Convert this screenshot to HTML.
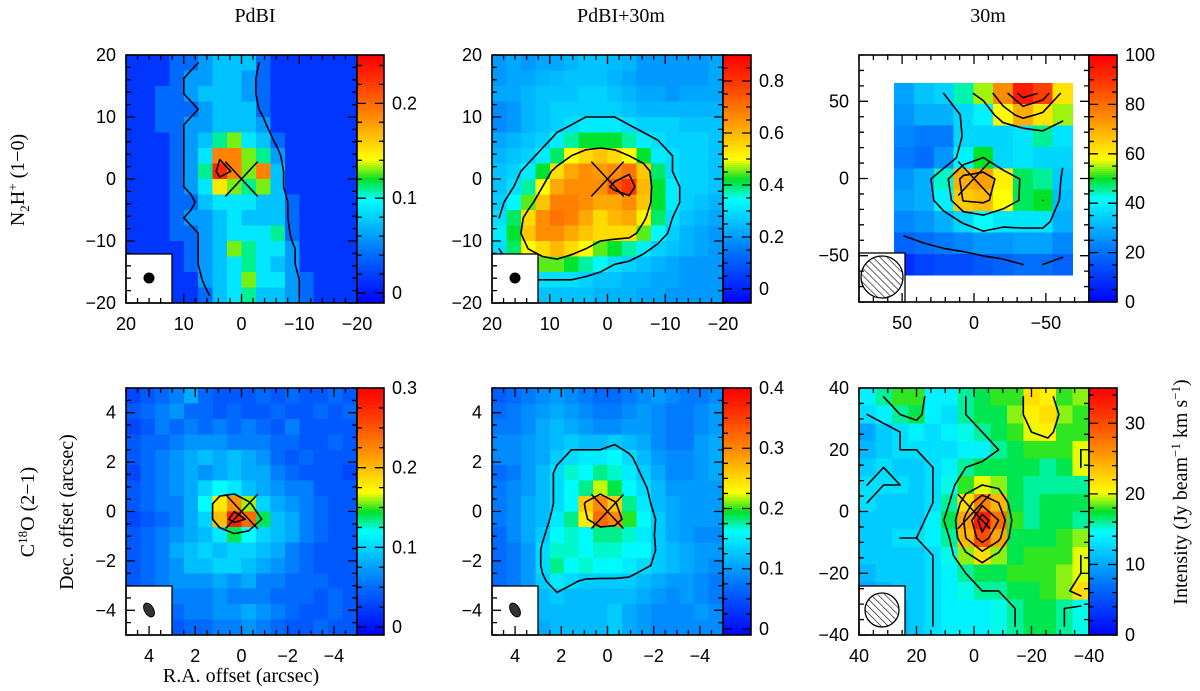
<!DOCTYPE html>
<html><head><meta charset="utf-8">
<style>
html,body{margin:0;padding:0;background:#fff;}
svg{display:block;}
text{fill:#000;}
.tk{font-family:"Liberation Sans",sans-serif;font-size:18px;}
.lb{font-family:"Liberation Serif",serif;font-size:20px;}
</style></head>
<body>
<svg id="fig" width="1200" height="691" viewBox="0 0 1200 691" xmlns="http://www.w3.org/2000/svg">
<defs>
<pattern id="hatch" patternUnits="userSpaceOnUse" width="5" height="5" patternTransform="rotate(-45)">
<line x1="0" y1="0" x2="0" y2="5" stroke="#000" stroke-width="1.2"/></pattern>
</defs>
<text class="lb" x="255" y="22" text-anchor="middle">PdBI</text>
<text class="lb" x="621" y="22" text-anchor="middle">PdBI+30m</text>
<text class="lb" x="988" y="22" text-anchor="middle">30m</text>
<text class="lb" transform="translate(24,180) rotate(-90)" text-anchor="middle">N<tspan font-size="13" dy="5">2</tspan><tspan dy="-5">H</tspan><tspan font-size="13" dy="-7">+</tspan><tspan dy="7"> (1−0)</tspan></text>
<text class="lb" transform="translate(34,512) rotate(-90)" text-anchor="middle">C<tspan font-size="13" dy="-7">18</tspan><tspan dy="7">O (2−1)</tspan></text>
<text class="lb" transform="translate(73,512) rotate(-90)" text-anchor="middle">Dec. offset (arcsec)</text>
<text class="lb" x="241" y="682" text-anchor="middle">R.A. offset (arcsec)</text>
<text class="lb" transform="translate(1187,492) rotate(-90)" text-anchor="middle">Intensity (Jy beam<tspan font-size="13" dy="-7">−1</tspan><tspan dy="7"> km s</tspan><tspan font-size="13" dy="-7">−1</tspan><tspan dy="7">)</tspan></text>
<g id="panels"></g>
</svg>
<script>
// ---------- DATA ----------
const p1Values = [
[.015,.015,.015,.04,.04,.06,.075,.075,.075,.04,.015,.015,.015,.015,.015,.015],
[.015,.015,.015,.04,.06,.06,.075,.075,.06,.04,.015,.015,.015,.015,.015,.015],
[.015,.015,.04,.04,.06,.075,.075,.075,.06,.04,.015,.015,.015,.015,.015,.015],
[.015,.015,.04,.04,.04,.06,.075,.075,.075,.04,.015,.015,.015,.015,.015,.015],
[.015,.015,.04,.04,.06,.06,.075,.075,.075,.06,.015,.015,.015,.015,.015,.015],
[.015,.015,.015,.04,.06,.075,.11,.13,.09,.075,.04,.015,.015,.015,.015,.015],
[.015,.015,.015,.04,.06,.09,.19,.19,.13,.11,.06,.015,.015,.015,.015,.015],
[.015,.015,.015,.04,.06,.11,.23,.19,.13,.19,.075,.015,.015,.015,.015,.015],
[.015,.015,.015,.04,.06,.09,.15,.13,.11,.13,.075,.015,.015,.015,.015,.015],
[.015,.015,.015,.04,.04,.075,.09,.09,.09,.075,.075,.04,.015,.015,.015,.015],
[.015,.015,.015,.04,.06,.06,.075,.09,.075,.075,.075,.04,.015,.015,.015,.015],
[.015,.015,.015,.04,.04,.06,.075,.09,.09,.09,.11,.04,.015,.015,.015,.015],
[.015,.015,.015,.015,.04,.06,.075,.13,.11,.09,.09,.06,.015,.015,.015,.015],
[.015,.015,.015,.015,.04,.06,.075,.09,.11,.09,.075,.06,.015,.015,.015,.015],
[.015,.015,.015,.015,.015,.06,.075,.09,.13,.09,.09,.06,.04,.015,.015,.015],
[.015,.015,.015,.015,.015,.04,.075,.09,.11,.075,.075,.06,.04,.015,.015,.015]];
const p2Values = [
[.2,.22,.2,.22,.22,.24,.26,.26,.25,.24,.2,.2,.2,.2,.2,.22],
[.2,.22,.22,.24,.25,.26,.26,.26,.24,.22,.2,.2,.2,.2,.2,.22],
[.22,.22,.24,.26,.26,.26,.28,.28,.26,.24,.22,.22,.2,.22,.22,.22],
[.18,.2,.24,.26,.28,.28,.28,.28,.28,.26,.24,.24,.24,.24,.24,.24],
[.18,.2,.24,.26,.28,.3,.32,.32,.32,.3,.28,.28,.28,.26,.26,.26],
[.22,.24,.26,.28,.32,.38,.42,.42,.42,.38,.32,.3,.28,.28,.28,.26],
[.24,.26,.28,.32,.4,.5,.55,.58,.55,.5,.42,.32,.3,.28,.28,.26],
[.26,.28,.32,.42,.55,.62,.66,.64,.66,.7,.58,.4,.3,.28,.28,.26],
[.26,.3,.38,.5,.62,.66,.66,.66,.75,.8,.6,.42,.32,.28,.28,.26],
[.28,.34,.45,.58,.68,.68,.66,.62,.62,.66,.58,.42,.32,.28,.26,.24],
[.3,.4,.55,.66,.7,.68,.62,.55,.6,.62,.52,.4,.3,.26,.24,.22],
[.32,.42,.58,.66,.66,.62,.58,.55,.55,.55,.45,.34,.28,.24,.22,.2],
[.3,.4,.5,.55,.6,.55,.5,.45,.42,.38,.32,.28,.26,.24,.22,.2],
[.26,.32,.42,.45,.45,.42,.38,.34,.3,.28,.26,.24,.22,.2,.2,.2],
[.24,.26,.3,.3,.3,.3,.28,.26,.26,.24,.24,.22,.22,.2,.2,.2],
[.22,.24,.24,.26,.26,.26,.26,.24,.24,.24,.22,.22,.2,.2,.2,.2]];
const p3Values = [
[28,33,35,45,55,75,95,88,62],
[26,30,30,36,40,58,70,62,55],
[24,22,22,36,36,36,38,46,38],
[22,20,26,40,50,36,38,36,36],
[26,30,44,70,72,60,48,46,34],
[28,30,40,66,68,58,48,50,32],
[24,26,30,36,42,38,38,38,30],
[18,20,22,24,26,26,28,28,24],
[8,12,14,14,16,18,20,20,18]];
const p4Values = [
[.03,.04,.05,.06,.08,.05,.04,.04,.04,.05,.04,.05,.04,.04,.05,.04],
[.04,.05,.06,.07,.05,.05,.04,.05,.04,.04,.05,.04,.04,.05,.04,.05],
[.03,.04,.06,.05,.06,.05,.06,.05,.06,.05,.04,.06,.04,.04,.04,.04],
[.04,.05,.05,.06,.07,.07,.07,.06,.06,.06,.05,.05,.04,.04,.05,.04],
[.04,.05,.06,.07,.08,.09,.08,.09,.08,.07,.05,.04,.05,.04,.04,.04],
[.03,.05,.06,.07,.08,.07,.08,.09,.08,.08,.06,.05,.04,.04,.04,.03],
[.04,.05,.06,.07,.08,.10,.12,.11,.09,.08,.07,.06,.06,.04,.04,.04],
[.04,.05,.06,.06,.08,.12,.18,.22,.16,.10,.08,.07,.06,.05,.04,.04],
[.03,.04,.05,.06,.08,.10,.20,.28,.24,.14,.09,.08,.06,.05,.04,.04],
[.04,.05,.06,.07,.08,.09,.11,.14,.12,.10,.09,.08,.06,.05,.04,.04],
[.04,.05,.06,.08,.09,.10,.09,.10,.10,.09,.08,.06,.05,.04,.04,.04],
[.04,.05,.06,.07,.09,.09,.10,.10,.09,.08,.07,.06,.05,.04,.04,.04],
[.04,.05,.06,.07,.07,.07,.08,.07,.08,.06,.06,.05,.05,.05,.04,.04],
[.04,.05,.06,.06,.06,.06,.07,.06,.06,.06,.05,.05,.05,.04,.05,.04],
[.04,.04,.05,.05,.06,.06,.07,.07,.08,.07,.06,.05,.04,.04,.05,.04],
[.04,.04,.04,.04,.05,.05,.06,.06,.07,.06,.05,.04,.04,.05,.04,.04]];
const p5Values = [
[.06,.07,.08,.09,.10,.09,.08,.07,.07,.08,.09,.10,.09,.08,.08,.09],
[.07,.08,.09,.10,.11,.10,.09,.08,.08,.09,.10,.09,.08,.08,.09,.10],
[.08,.08,.09,.11,.12,.11,.10,.09,.09,.10,.10,.09,.08,.08,.09,.10],
[.09,.09,.10,.11,.12,.13,.12,.12,.13,.12,.11,.09,.08,.08,.10,.11],
[.09,.09,.10,.11,.13,.14,.15,.15,.16,.14,.12,.10,.09,.09,.10,.11],
[.07,.08,.10,.12,.14,.17,.16,.18,.17,.15,.13,.11,.09,.09,.10,.11],
[.08,.09,.10,.12,.14,.16,.18,.22,.19,.16,.14,.12,.10,.10,.10,.10],
[.08,.09,.11,.12,.14,.16,.26,.30,.26,.18,.15,.12,.11,.10,.10,.10],
[.08,.09,.11,.12,.15,.18,.24,.32,.30,.20,.16,.13,.11,.10,.10,.10],
[.07,.09,.11,.13,.16,.17,.16,.18,.18,.17,.15,.13,.11,.10,.09,.09],
[.07,.08,.10,.14,.17,.17,.16,.17,.17,.16,.16,.13,.12,.11,.10,.10],
[.07,.08,.10,.14,.18,.16,.17,.16,.16,.15,.14,.13,.12,.11,.10,.09],
[.07,.08,.10,.13,.15,.14,.13,.13,.13,.13,.12,.11,.10,.10,.09,.08],
[.08,.09,.11,.12,.13,.12,.12,.12,.12,.12,.11,.10,.09,.10,.09,.08],
[.08,.09,.11,.12,.12,.12,.12,.12,.13,.11,.10,.09,.09,.09,.10,.09],
[.08,.09,.10,.11,.12,.12,.12,.12,.13,.11,.10,.09,.09,.09,.09,.09]];
const p6Values = [
[14,16,18,18,14,14,16,17,18,18,22,21,18,19],
[13,14,16,17,14,13,16,17,17,19,21,22,19,18],
[10,12,13,14,13,14,15,16,17,18,20,21,18,18],
[11,12,13,13,13,13,14,14,16,17,18,18,18,20],
[12,13,12,12,13,14,16,17,17,17,17,16,17,20],
[13,13,13,12,13,15,18,20,19,17,16,16,16,16],
[13,12,12,12,13,16,22,27,24,17,16,17,17,17],
[12,12,12,12,14,17,25,33,28,18,16,17,17,16],
[12,12,13,13,14,16,24,30,25,17,17,17,18,19],
[12,12,12,12,13,15,19,22,19,17,18,18,18,20],
[11,12,12,12,13,14,16,17,17,18,18,18,19,20],
[10,11,12,12,13,14,15,16,16,17,17,18,19,22],
[11,11,11,12,13,14,14,14,15,16,17,17,16,15],
[11,11,11,12,13,14,14,14,15,16,17,17,16,15]];
const p1Contours = [0.05, 0.2];
const p2Contours = [0.3, 0.5, 0.72];
const p3Contours = [20, 35, 50, 65, 80, 90];
const p4Contours = [0.15, 0.25];
const p5Contours = [0.135, 0.25];
const p6Contours = [13, 16, 20, 24, 28, 31];
const axisTicks20 = [20, 10, 0, -10, -20];
const axisTicks80 = [50, 0, -50];
const axisTicks5 = [4, 2, 0, -2, -4];
const axisTicks40 = [40, 20, 0, -20, -40];
const cb1Ticks = [0, 0.1, 0.2];
const cb1Labels = ["0", "0.1", "0.2"];
const cb2Ticks = [0, 0.2, 0.4, 0.6, 0.8];
const cb2Labels = ["0", "0.2", "0.4", "0.6", "0.8"];
const cb3Ticks = [0, 20, 40, 60, 80, 100];
const cb3Labels = ["0", "20", "40", "60", "80", "100"];
const cb4Ticks = [0, 0.1, 0.2, 0.3];
const cb4Labels = ["0", "0.1", "0.2", "0.3"];
const cb5Ticks = [0, 0.1, 0.2, 0.3, 0.4];
const cb5Labels = ["0", "0.1", "0.2", "0.3", "0.4"];
const cb6Ticks = [0, 10, 20, 30];
const cb6Labels = ["0", "10", "20", "30"];

// ---------- RENDER ----------
const NS = "http://www.w3.org/2000/svg";
const root = document.getElementById("panels");
function mk(tag, attrs, parent) {
  const e = document.createElementNS(NS, tag);
  for (const k in attrs) e.setAttribute(k, attrs[k]);
  (parent || root).appendChild(e);
  return e;
}
const stops = [[0,[0,0,255]],[0.2,[0,110,255]],[0.42,[0,255,255]],[0.5,[0,225,40]],[0.58,[255,255,0]],[0.75,[255,140,0]],[0.9,[255,50,0]],[1,[255,0,0]]];
function cmap(f) {
  f = Math.max(0, Math.min(1, f));
  for (let i = 1; i < stops.length; i++) {
    if (f <= stops[i][0]) {
      const a = stops[i-1], b = stops[i], t = (f - a[0]) / (b[0] - a[0]);
      const c = a[1].map((v, k) => Math.round(v + (b[1][k] - v) * t));
      return "rgb(" + c.join(",") + ")";
    }
  }
  return "rgb(255,0,0)";
}
function fmt(v){ return String(v).replace("-", "−"); }

function panel(p) {
  const g = mk("g", {});
  
  
  const sx = v => p.x0 + (v - p.xd[0]) / (p.xd[1] - p.xd[0]) * (p.x1 - p.x0);
  const sy = v => p.y0 + (v - p.yd[0]) / (p.yd[1] - p.yd[0]) * (p.y1 - p.y0);
  const cf = v => (v - p.cd[0]) / (p.cd[1] - p.cd[0]);
  const clipId = "clip-" + p.name;
  const cp = mk("clipPath", {id: clipId}, g);
  mk("rect", {x: p.x0, y: p.y0, width: p.x1 - p.x0, height: p.y1 - p.y0}, cp);
  const hm = mk("g", {"clip-path": "url(#" + clipId + ")", "shape-rendering": "crispEdges"}, g);
  
  
  const rows = p.vals.length, cols = p.vals[0].length;
  const dx = (p.ge[1] - p.ge[0]) / cols, dy = (p.ge[3] - p.ge[2]) / rows;
  for (let r = 0; r < rows; r++) for (let c = 0; c < cols; c++) {
    const xa = sx(p.ge[0] + c * dx), xb = sx(p.ge[0] + (c + 1) * dx);
    const ya = sy(p.ge[2] + r * dy), yb = sy(p.ge[2] + (r + 1) * dy);
    const cell = mk("rect", {x: Math.min(xa, xb), y: Math.min(ya, yb), width: Math.abs(xb - xa) + 0.6, height: Math.abs(yb - ya) + 0.6, fill: cmap(cf(p.vals[r][c]))}, hm);
    
    
  }
  const cx = c => sx(p.ge[0] + (c + 0.5) * dx), cy = r => sy(p.ge[2] + (r + 0.5) * dy);
  let d = "";
  p.levels.forEach(L => {
    for (let r = 0; r < rows - 1; r++) for (let c = 0; c < cols - 1; c++) {
      const corners = [[r, c], [r, c + 1], [r + 1, c + 1], [r + 1, c]];
      const pts = [];
      for (let k = 0; k < 4; k++) {
        const A = corners[k], B = corners[(k + 1) % 4];
        const va = p.vals[A[0]][A[1]], vb = p.vals[B[0]][B[1]];
        if ((va < L) !== (vb < L)) {
          const t = (L - va) / (vb - va);
          const rr = A[0] + (B[0] - A[0]) * t, cc = A[1] + (B[1] - A[1]) * t;
          pts.push([cx(0) + (cx(1) - cx(0)) * cc, cy(0) + (cy(1) - cy(0)) * rr]);
        }
      }
      for (let k = 0; k + 1 < pts.length; k += 2)
        d += "M" + pts[k][0].toFixed(1) + " " + pts[k][1].toFixed(1) + "L" + pts[k+1][0].toFixed(1) + " " + pts[k+1][1].toFixed(1);
    }
  });
  const ct = mk("path", {d: d, fill: "none", stroke: "#000", "stroke-width": 1.6, "stroke-linecap": "round", "clip-path": "url(#" + clipId + ")"}, g);
  
  
  const cr = mk("path", {d: "M" + sx(p.cross) + " " + sy(p.cross) + "L" + sx(-p.cross) + " " + sy(-p.cross) + "M" + sx(p.cross) + " " + sy(-p.cross) + "L" + sx(-p.cross) + " " + sy(p.cross), stroke: "#000", "stroke-width": 1.5}, g);
  
  
  const bx = mk("rect", {x: p.x0, y: p.y1 - 49, width: 46, height: 49, fill: "#fff", stroke: "#000", "stroke-width": 1.3}, g);
  
  
  const bcx = p.x0 + 23, bcy = p.y1 - 25;
  let beam;
  if (p.beam === "dot") beam = mk("ellipse", {cx: bcx, cy: bcy, rx: 5.5, ry: 5.5, fill: "#000"}, g);
  else if (p.beam === "ell") beam = mk("ellipse", {cx: bcx, cy: bcy, rx: 4.5, ry: 7.5, fill: "#333", stroke: "#000", transform: "rotate(-30 " + bcx + " " + bcy + ")"}, g);
  else beam = mk("circle", {cx: bcx, cy: bcy, r: p.beam === "big" ? 21 : 17, fill: "url(#hatch)", stroke: "#000", "stroke-width": 1.3}, g);
  
  
  mk("rect", {x: p.x0, y: p.y0, width: p.x1 - p.x0, height: p.y1 - p.y0, fill: "none", stroke: "#000", "stroke-width": 1.6}, g);
  let td = "";
  const lo = Math.min(p.xd[0], p.xd[1]), hi = Math.max(p.xd[0], p.xd[1]);
  for (let v = Math.ceil(lo / p.minor - 1e-6) * p.minor; v <= hi + 1e-9; v += p.minor) {
    const major = p.ticks.some(t => Math.abs(t - v) < 1e-6);
    const L = major ? 9 : 5, x = sx(v);
    td += "M" + x + " " + p.y0 + "v" + L + "M" + x + " " + p.y1 + "v" + (-L);
  }
  const lo2 = Math.min(p.yd[0], p.yd[1]), hi2 = Math.max(p.yd[0], p.yd[1]);
  for (let v = Math.ceil(lo2 / p.minor - 1e-6) * p.minor; v <= hi2 + 1e-9; v += p.minor) {
    const major = p.ticks.some(t => Math.abs(t - v) < 1e-6);
    const L = major ? 9 : 5, y = sy(v);
    td += "M" + p.x0 + " " + y + "h" + L + "M" + p.x1 + " " + y + "h" + (-L);
  }
  mk("path", {d: td, stroke: "#000", "stroke-width": 1.3, fill: "none"}, g);
  p.ticks.forEach(t => {
    const a = mk("text", {class: "tk", x: p.x0 - 10, y: sy(t) + 6, "text-anchor": "end"}, g);
    a.textContent = fmt(t);
    
    
    const b = mk("text", {class: "tk", x: sx(t), y: p.y1 + 27, "text-anchor": "middle"}, g);
    b.textContent = fmt(t);
    
    
  });
  const cbg = mk("g", {"shape-rendering": "crispEdges"}, g);
  
  
  const N = 120, h = (p.y1 - p.y0) / N;
  for (let i = 0; i < N; i++) mk("rect", {x: p.x1, y: p.y1 - (i + 1) * h, width: p.cbw, height: h + 0.6, fill: cmap((i + 0.5) / N)}, cbg);
  mk("rect", {x: p.x1, y: p.y0, width: p.cbw, height: p.y1 - p.y0, fill: "none", stroke: "#000", "stroke-width": 1.6}, g);
  const cy2 = v => p.y1 - cf(v) * (p.y1 - p.y0);
  let cd = "";
  for (let v = Math.ceil(p.cd[0] / p.cminor - 1e-6) * p.cminor; v <= p.cd[1] + 1e-9; v += p.cminor) {
    const major = p.cticks.some(t => Math.abs(t - v) < 1e-6);
    const L = major ? 9 : 5, y = cy2(v);
    cd += "M" + p.x1 + " " + y + "h" + L + "M" + (p.x1 + p.cbw) + " " + y + "h" + (-L);
  }
  mk("path", {d: cd, stroke: "#000", "stroke-width": 1.3, fill: "none"}, g);
  p.cticks.forEach((t, i) => {
    const a = mk("text", {class: "tk", x: p.x1 + p.cbw + 8, y: cy2(t) + 6}, g);
    a.textContent = p.clabels[i];
    
    
  });
}

panel({name: "panel-n2h-pdbi", x0: 126, x1: 357, y0: 55, y1: 303, xd: [20, -20], yd: [20, -20], ge: [20, -20, 20, -20], vals: p1Values, levels: p1Contours, ticks: axisTicks20, minor: 2, cd: [-0.0105, 0.251], cticks: cb1Ticks, clabels: cb1Labels, cminor: 0.02, cbw: 27, cross: 2.8, beam: "dot"});
panel({name: "panel-n2h-pdbi-30m", x0: 492, x1: 723, y0: 55, y1: 303, xd: [20, -20], yd: [20, -20], ge: [20, -20, 20, -20], vals: p2Values, levels: p2Contours, ticks: axisTicks20, minor: 2, cd: [-0.054, 0.9], cticks: cb2Ticks, clabels: cb2Labels, cminor: 0.05, cbw: 28, cross: 2.8, beam: "dot"});
panel({name: "panel-n2h-30m", x0: 859, x1: 1089, y0: 55, y1: 302, xd: [80, -80], yd: [80, -80], ge: [55.5, -68.5, 62, -62.6], vals: p3Values, levels: p3Contours, ticks: axisTicks80, minor: 10, cd: [0, 100], cticks: cb3Ticks, clabels: cb3Labels, cminor: 5, cbw: 28, cross: 11, beam: "big"});
panel({name: "panel-c18o-pdbi", x0: 126, x1: 357, y0: 388, y1: 635, xd: [5, -5], yd: [5, -5], ge: [5, -5, 5, -5], vals: p4Values, levels: p4Contours, ticks: axisTicks5, minor: 0.5, cd: [-0.01, 0.3], cticks: cb4Ticks, clabels: cb4Labels, cminor: 0.025, cbw: 27, cross: 0.7, beam: "ell"});
panel({name: "panel-c18o-pdbi-30m", x0: 492, x1: 723, y0: 388, y1: 635, xd: [5, -5], yd: [5, -5], ge: [5, -5, 5, -5], vals: p5Values, levels: p5Contours, ticks: axisTicks5, minor: 0.5, cd: [-0.01, 0.4], cticks: cb5Ticks, clabels: cb5Labels, cminor: 0.025, cbw: 28, cross: 0.7, beam: "ell"});
panel({name: "panel-c18o-30m", x0: 859, x1: 1089, y0: 388, y1: 635, xd: [40, -40], yd: [40, -40], ge: [40, -40, 40, -40], vals: p6Values, levels: p6Contours, ticks: axisTicks40, minor: 5, cd: [0, 35], cticks: cb6Ticks, clabels: cb6Labels, cminor: 2, cbw: 28, cross: 5.6, beam: "small"});
</script>
</body></html>
